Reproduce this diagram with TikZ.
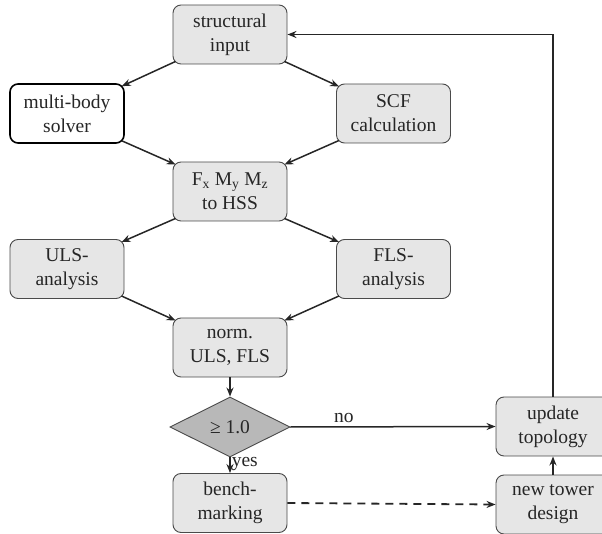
\documentclass[tikz,border=0pt]{standalone}
\usepackage{fontspec}
\setmainfont{Liberation Serif}
\usetikzlibrary{shapes.geometric,arrows.meta}
\definecolor{boxfill}{HTML}{E6E6E6}
\definecolor{boxline}{HTML}{4A4A4A}
\definecolor{diafill}{HTML}{B8B8B8}
\begin{document}
\begin{tikzpicture}[x=1pt,y=-1pt,
  font=\fontsize{19.5}{24}\selectfont,
  stepbox/.style={draw=boxline,line width=0.9pt,fill=boxfill,rounded corners=8pt,
    minimum width=114pt,minimum height=59pt,align=center,inner sep=2pt,text=black!85},
  whitebox/.style={stepbox,fill=white,draw=black,line width=1.6pt},
  decision/.style={diamond,draw=boxline,line width=0.9pt,fill=diafill,
    minimum width=120pt,minimum height=60pt,inner sep=0pt,text=black!85},
  conn/.style={line width=1.5pt,draw=black!85,-{Stealth[length=9pt,width=7pt]}},
  lbl/.style={text=black!85}
]
\useasboundingbox (0,0) rectangle (602,534);
\node[stepbox] (si) at (230,34.5) {structural\\input};
\node[whitebox] (mb) at (67,113.5) {multi-body\\solver};
\node[stepbox] (scf) at (393.5,113.5) {SCF\\calculation};
\node[stepbox] (fm) at (230,191.5) {F\textsubscript{x} M\textsubscript{y} M\textsubscript{z}\\to HSS};
\node[stepbox] (uls) at (67,269) {ULS-\\analysis};
\node[stepbox] (fls) at (393.5,269) {FLS-\\analysis};
\node[stepbox] (norm) at (230,347.5) {norm.\\ULS, FLS};
\node[decision] (dec) at (230,427) {≥ 1.0};
\node[stepbox] (bm) at (230,503) {bench-\\marking};
\node[stepbox] (ut) at (553,426.5) {update\\topology};
\node[stepbox] (nt) at (553,504.5) {new tower\\design};
\coordinate (top) at (553,34.5);

\draw[conn] ([shift={(3,-3)}]si.south west) -- ([shift={(-3,3)}]mb.north east);
\draw[conn] ([shift={(-3,-3)}]si.south east) -- ([shift={(3,3)}]scf.north west);
\draw[conn] ([shift={(-3,-3)}]mb.south east) -- ([shift={(3,3)}]fm.north west);
\draw[conn] ([shift={(3,-3)}]scf.south west) -- ([shift={(-3,3)}]fm.north east);
\draw[conn] ([shift={(3,-3)}]fm.south west) -- ([shift={(-3,3)}]uls.north east);
\draw[conn] ([shift={(-3,-3)}]fm.south east) -- ([shift={(3,3)}]fls.north west);
\draw[conn] ([shift={(-3,-3)}]uls.south east) -- ([shift={(3,3)}]norm.north west);
\draw[conn] ([shift={(3,-3)}]fls.south west) -- ([shift={(-3,3)}]norm.north east);
\draw[conn] (norm.south) -- (dec.north);
\draw[conn] (dec.south) -- node[lbl,right,pos=0.45,inner sep=1pt] {yes} (bm.north);
\draw[conn] (dec.east) -- node[lbl,above,pos=0.26,inner sep=3pt] {no} (ut.west);
\draw[conn,dash pattern=on 8pt off 6pt,line width=1.8pt] (bm.east) -- (nt.west);
\draw[conn] (nt.north) -- (ut.south);
\draw[conn] (ut.north) -- (top) -- (si.east);
\end{tikzpicture}
\end{document}
